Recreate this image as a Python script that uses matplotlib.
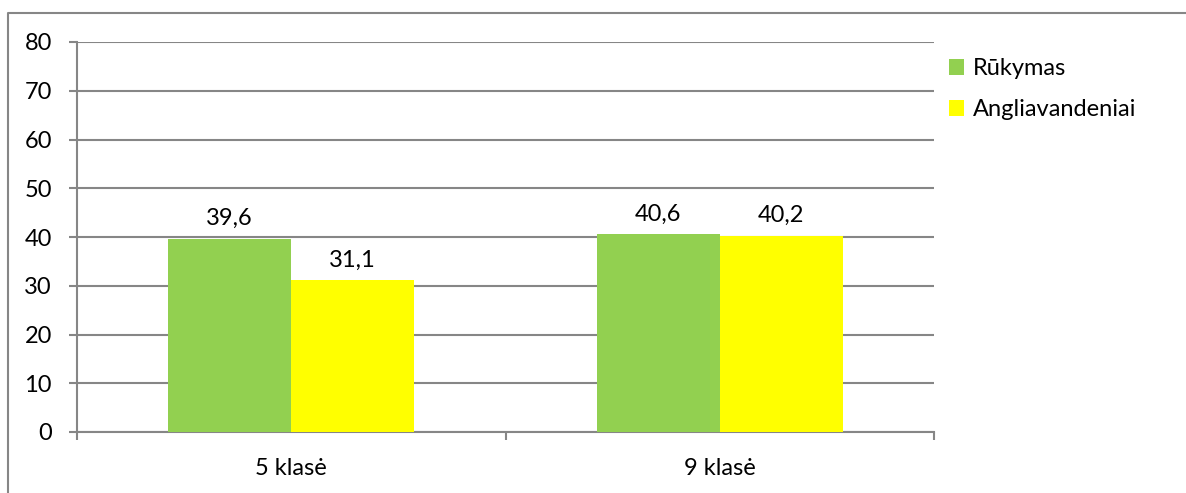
import matplotlib
matplotlib.use("Agg")
import matplotlib.pyplot as plt
from matplotlib.patches import Patch
from matplotlib.lines import Line2D
import numpy as np

categories = ["5 klasė", "9 klasė"]
series_names = ["Rūkymas", "Angliavandeniai"]
rukymas = [39.6, 40.6]
angliavandeniai = [31.1, 40.2]
colors = ["#92D050", "#FFFF00"]
yticks = [0, 10, 20, 30, 40, 50, 60, 70, 80]

W, H = 1186, 493
FS = 17
plt.rcParams["font.family"] = ["Lato", "DejaVu Sans"]
fig = plt.figure(figsize=(W / 100, H / 100), dpi=100)
ax = fig.add_axes([77 / W, (H - 432) / H, 857 / W, 390 / H])

grid_c = "#868686"
x = np.arange(len(categories))
bw = 0.287
values = [rukymas, angliavandeniai]
for i, (vals, col, name) in enumerate(zip(values, colors, series_names)):
    pos = x + (i - 0.5) * bw
    bars = ax.bar(pos, vals, width=bw, color=col, label=name, zorder=3)
    for b, v in zip(bars, vals):
        ax.annotate(f"{v:.1f}".replace(".", ","), (b.get_x() + b.get_width() / 2, v),
                    xytext=(0, 7), textcoords="offset points",
                    ha="center", va="bottom", fontsize=FS, color="black")

ax.set_xlim(-0.5, len(categories) - 0.5)
ax.set_ylim(0, 80)
ax.set_yticks(yticks)
ax.yaxis.grid(True, color=grid_c, linewidth=1.5, zorder=0)
ax.set_axisbelow(True)

# major x ticks at category boundaries, labels on minor ticks at centers
ax.set_xticks(np.arange(-0.5, len(categories), 1.0))
ax.set_xticklabels([])
ax.set_xticks(x, minor=True)
ax.set_xticklabels(categories, minor=True)
ax.tick_params(axis="x", which="major", length=6, width=1.5, color=grid_c)
ax.tick_params(axis="x", which="minor", length=0, pad=19, labelsize=FS)
ax.tick_params(axis="y", length=6, width=1.5, color=grid_c, pad=12, labelsize=FS)

for s in ["top", "right"]:
    ax.spines[s].set_visible(False)
for s in ["left", "bottom"]:
    ax.spines[s].set_color(grid_c)
    ax.spines[s].set_linewidth(1.5)

handles = [Patch(facecolor=c, edgecolor="none") for c in colors]
fig.legend(handles, series_names, loc="upper left",
           bbox_to_anchor=(928 / W, 1 - 37 / H), frameon=False,
           fontsize=FS, handlelength=0.62, handleheight=0.62,
           handletextpad=0.4, labelspacing=0.85)

# outer chart border (left and top edges)
fig.add_artist(Line2D([8 / W, 8 / W, 1.0], [0.0, 1 - 13 / H, 1 - 13 / H],
                      transform=fig.transFigure, color=grid_c, linewidth=1.5))

fig.savefig("out.png", dpi=100)
